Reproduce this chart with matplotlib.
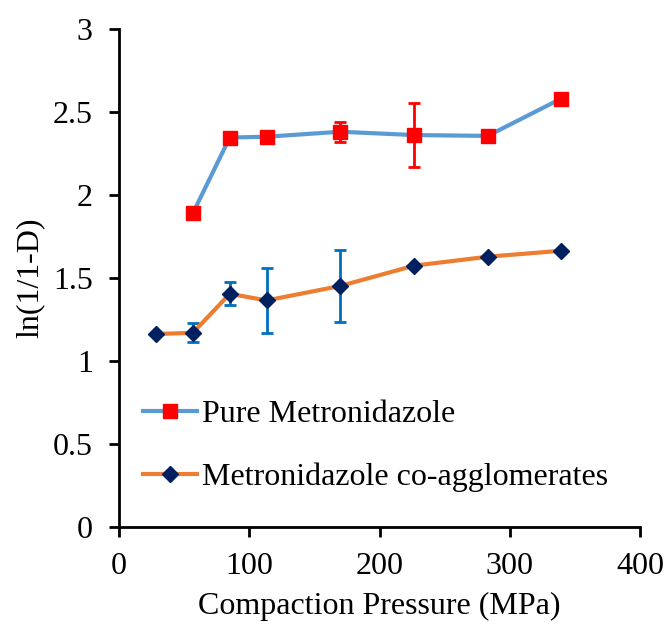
import numpy as np
import matplotlib
matplotlib.use("Agg")
import matplotlib.pyplot as plt

# ---- data ----
pure_x = [56.6, 84.9, 113.2, 169.8, 226.4, 283.0, 339.6]
pure_y = [1.89, 2.345, 2.35, 2.38, 2.36, 2.355, 2.58]
pure_err = [0.0, 0.0, 0.025, 0.06, 0.195, 0.0, 0.0]

coag_x = [28.3, 56.6, 84.9, 113.2, 169.8, 226.4, 283.0, 339.6]
coag_y = [1.163, 1.17, 1.405, 1.365, 1.452, 1.574, 1.628, 1.664]
coag_err = [0.0, 0.057, 0.07, 0.193, 0.214, 0.0, 0.0, 0.0]

plt.rcParams['font.family'] = ['Liberation Serif', 'DejaVu Serif']

fig = plt.figure(figsize=(6.66, 6.24), dpi=100)
ax = fig.add_axes([0.179, 0.155, 0.782, 0.799])

ax.plot(pure_x, pure_y, color="#5B9BD5", lw=3, marker="s", ms=10,
        mfc="#FF0000", mec="#FF0000", label="Pure Metronidazole", zorder=3)
ax.errorbar(pure_x, pure_y, yerr=pure_err, fmt="none", ecolor="#FF0000",
            elinewidth=2, capsize=4.5, capthick=2, zorder=4)

ax.plot(coag_x, coag_y, color="#ED7D31", lw=3, marker="D", ms=8,
        mfc="#002060", mec="#002060", label="Metronidazole co-agglomerates", zorder=3)
ax.errorbar(coag_x, coag_y, yerr=coag_err, fmt="none", ecolor="#0070C0",
            elinewidth=2, capsize=4.5, capthick=2, zorder=2)

ax.set_xlim(0, 400)
ax.set_ylim(0, 3)
ax.set_xticks([0, 100, 200, 300, 400])
ax.set_yticks([0, 0.5, 1, 1.5, 2, 2.5, 3])
ax.set_yticklabels(["0", "0.5", "1", "1.5", "2", "2.5", "3"])
ax.tick_params(labelsize=23, direction="out", length=7, width=2)
ax.tick_params(axis="y", pad=12)
ax.tick_params(axis="x", pad=11)
for s in ["top", "right"]:
    ax.spines[s].set_visible(False)
for s in ["left", "bottom"]:
    ax.spines[s].set_linewidth(2)

ax.set_xlabel("Compaction Pressure (MPa)", fontsize=23, labelpad=8)
ax.set_ylabel("ln(1/1-D)", fontsize=23, labelpad=6)

ax.legend(loc="lower left", bbox_to_anchor=(0.046, 0.07), frameon=False,
          fontsize=23, handlelength=1.7, labelspacing=1.05, handletextpad=0.15,
          borderpad=0, borderaxespad=0)

fig.savefig("out.png", dpi=100)
